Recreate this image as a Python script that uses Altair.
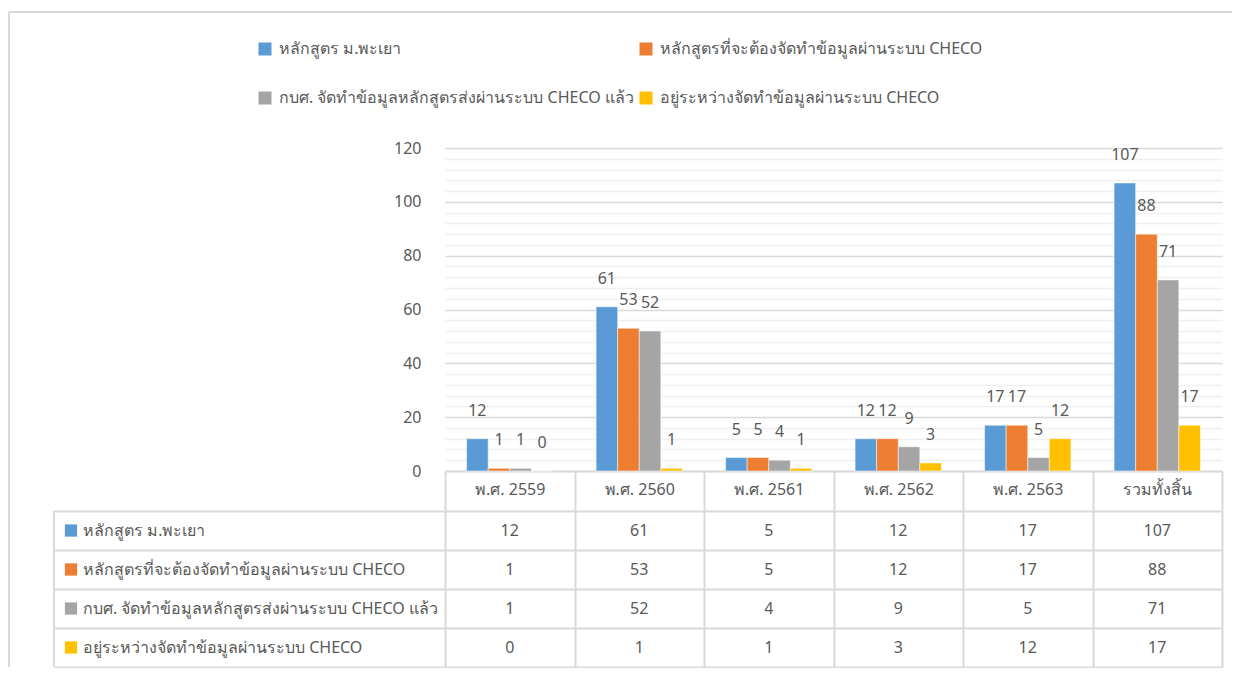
import altair as alt
import pandas as pd

categories = ["พ.ศ. 2559", "พ.ศ. 2560", "พ.ศ. 2561", "พ.ศ. 2562", "พ.ศ. 2563", "รวมทั้งสิ้น"]
series = [
    "หลักสูตร ม.พะเยา",
    "หลักสูตรที่จะต้องจัดทำข้อมูลผ่านระบบ CHECO",
    "กบศ. จัดทำข้อมูลหลักสูตรส่งผ่านระบบ CHECO แล้ว",
    "อยู่ระหว่างจัดทำข้อมูลผ่านระบบ CHECO",
]
s1 = [12, 61, 5, 12, 17, 107]
s2 = [1, 53, 5, 12, 17, 88]
s3 = [1, 52, 4, 9, 5, 71]
s4 = [0, 1, 1, 3, 12, 17]
colors = ["#5B9BD5", "#ED7D31", "#A5A5A5", "#FFC000"]
y_ticks = list(range(0, 121, 4))

# legend is laid out column-first, so list the entries in column order
legend_order = [0, 2, 1, 3]
legend_domain = [series[i] for i in legend_order]
legend_range = [colors[i] for i in legend_order]

rows = []
for name, vals in zip(series, [s1, s2, s3, s4]):
    for c, v in zip(categories, vals):
        rows.append({"category": c, "series": name, "value": v})
df = pd.DataFrame(rows)

FONT = "Noto Sans"
TXT = "#595959"
LINE = "#d9d9d9"
W = 777
H = 323
H2 = 156

color = alt.Color(
    "series:N",
    scale=alt.Scale(domain=legend_domain, range=legend_range),
    legend=alt.Legend(
        title=None, orient="none", legendX=-188, legendY=-107, columns=2,
        symbolType="square", symbolSize=169, symbolStrokeWidth=0,
        labelFontSize=16, labelColor=TXT, labelFont=FONT, labelLimit=600,
        rowPadding=33, columnPadding=4, labelOffset=6, padding=0,
    ),
)

xband = alt.Scale(paddingInner=0, paddingOuter=0)

base = alt.Chart(df).encode(
    x=alt.X(
        "category:N", sort=categories, scale=xband,
        axis=alt.Axis(
            title=None, labelAngle=0, domainColor=LINE, domainWidth=2,
            tickColor=LINE, tickWidth=2, tickSize=40, tickBand="extent",
            labelPadding=-30, labelFontSize=16, labelColor=TXT, labelFont=FONT,
            labelBaseline="top",
        ),
    ),
    xOffset=alt.XOffset("series:N", sort=series, scale=alt.Scale(paddingInner=0, paddingOuter=1)),
    y=alt.Y(
        "value:Q", scale=alt.Scale(domain=[0, 120], nice=False),
        axis=alt.Axis(
            title=None, values=y_ticks, domain=False, ticks=False,
            labelExpr="datum.value % 20 === 0 ? datum.label : ''",
            labelPadding=24, labelFontSize=16, labelColor=TXT, labelFont=FONT,
            gridColor=alt.condition("datum.value % 20 === 0", alt.value("#d9d9d9"), alt.value("#f0f0f0")),
            gridWidth=1.5,
        ),
    ),
)

bars = base.mark_bar(stroke="white", strokeWidth=0.5).encode(color=color)
labels = base.mark_text(dy=-28, baseline="middle", fontSize=16, color=TXT, font=FONT).encode(
    text="value:Q"
)
frame_top = alt.Chart(df).mark_rule(color=LINE, strokeWidth=2).encode(
    x=alt.value(-436), x2=alt.value(W + 10), y=alt.value(-136)
)
frame_left = alt.Chart(df).mark_rule(color=LINE, strokeWidth=2).encode(
    x=alt.value(-436), y=alt.value(-136), y2=alt.value(H + 196)
)

top = alt.layer(frame_top, frame_left, bars, labels).properties(width=W, height=H)

# data table
tbase = alt.Chart(df).encode(
    y=alt.Y(
        "series:N", sort=series, scale=alt.Scale(paddingInner=0, paddingOuter=0),
        axis=alt.Axis(
            title=None, labels=False, domain=False, ticks=True, tickSize=391,
            tickColor=LINE, tickWidth=2, tickBand="extent",
            grid=True, gridColor=LINE, gridWidth=2,
        ),
    ),
)
cells = tbase.mark_text(fontSize=16, color=TXT, font=FONT).encode(
    x=alt.X(
        "category:N", sort=categories, scale=xband,
        axis=alt.Axis(
            title=None, labels=False, domain=False, ticks=False, tickBand="extent",
            grid=True, gridColor=LINE, gridWidth=2,
        ),
    ),
    text="value:Q",
)
row_names = alt.Chart(pd.DataFrame({"series": series})).mark_text(
    align="left", fontSize=16, color=TXT, font=FONT
).encode(
    x=alt.value(-362),
    y=alt.Y("series:N", sort=series),
    text="series:N",
)
keys = alt.Chart(pd.DataFrame({"series": series})).mark_square(size=150, opacity=1).encode(
    x=alt.value(-374),
    y=alt.Y("series:N", sort=series),
    color=alt.Color("series:N", scale=alt.Scale(domain=series, range=colors), legend=None),
)
left_border = alt.Chart(df).mark_rule(color=LINE, strokeWidth=2).encode(
    x=alt.value(-391), y=alt.value(0), y2=alt.value(H2)
)

table = alt.layer(cells, row_names, keys, left_border).properties(width=W, height=H2)

chart = (
    alt.vconcat(top, table, spacing=40, bounds="flush")
    .resolve_scale(color="independent")
    .resolve_legend(color="independent")
    .configure(font=FONT, view=alt.ViewConfig(stroke="transparent", strokeWidth=0))
    .properties(padding={"left": 0, "top": 3, "right": 0, "bottom": 0})
)

chart.save("out.html", embed_options={"renderer": "svg", "actions": False})
